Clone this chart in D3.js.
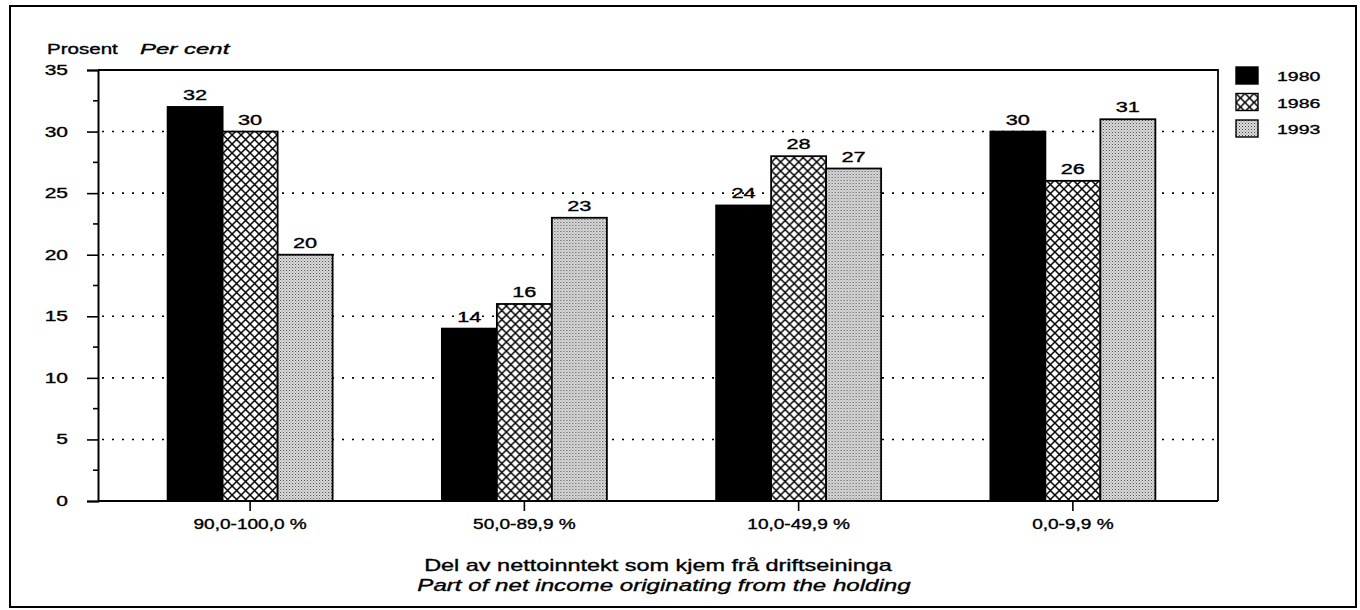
<!DOCTYPE html>
<html>
<head>
<meta charset="utf-8">
<script src="https://cdn.jsdelivr.net/npm/d3@7"></script>
<style>
  body { margin: 0; background: #fff; }
  svg { font-family: "Liberation Sans", Arial, sans-serif; }
  svg text { fill: #000; stroke: #000; stroke-width: 0.35px; }
</style>
</head>
<body>
<div id="vis"></div>
<script>
// data
const CATEGORIES = ["90,0-100,0 %", "50,0-89,9 %", "10,0-49,9 %", "0,0-9,9 %"];
const YEARS = ["1980", "1986", "1993"];
const V1980 = [32, 14, 24, 30];
const V1986 = [30, 16, 28, 26];
const V1993 = [20, 23, 27, 31];
const Y_TICKS = [0, 5, 10, 15, 20, 25, 30, 35];

const SERIES = [V1980, V1986, V1993];

// frame
const FRAME_WIDTH = 1360;
const FRAME_HEIGHT = 610;
const PLOT = {left: 98, right: 1218, top: 70, bottom: 501};

const SVG = d3.select("#vis")
  .append("svg")
    .attr("width", FRAME_WIDTH)
    .attr("height", FRAME_HEIGHT);

// the scanned lettering is wide, so stretch text horizontally
function wideText(parent, x, y, sx) {
  return parent.append("text")
      .attr("transform", "translate(" + x + "," + y + ") scale(" + sx + ",1)");
}

// patterns
const DEFS = SVG.append("defs");
const cross = DEFS.append("pattern")
    .attr("id", "cross")
    .attr("patternUnits", "userSpaceOnUse")
    .attr("width", 9).attr("height", 9);
cross.append("rect").attr("width", 9).attr("height", 9).attr("fill", "#fff");
cross.append("path")
    .attr("d", "M0,0L9,9M9,0L0,9")
    .attr("stroke", "#000").attr("stroke-width", 1.5);

const dots = DEFS.append("pattern")
    .attr("id", "dots")
    .attr("patternUnits", "userSpaceOnUse")
    .attr("width", 3).attr("height", 3);
dots.append("rect").attr("width", 3).attr("height", 3).attr("fill", "#dedede");
dots.append("rect").attr("width", 1).attr("height", 1).attr("fill", "#444");
dots.append("rect").attr("x", 1.5).attr("y", 1.5).attr("width", 1).attr("height", 1).attr("fill", "#777");

const FILLS = ["#000", "url(#cross)", "url(#dots)"];

// outer frame
SVG.append("rect")
    .attr("x", 10).attr("y", 6)
    .attr("width", 1346).attr("height", 601)
    .attr("fill", "none").attr("stroke", "#000").attr("stroke-width", 2);

// scales
const X_SCALE = d3.scaleBand()
    .domain(CATEGORIES)
    .range([113, 1210]);

const BAR_W = 55;
const X_INNER = d3.scaleBand()
    .domain(YEARS)
    .range([-BAR_W * 1.5, BAR_W * 1.5]);

const Y_SCALE = d3.scaleLinear()
    .domain([0, 35])
    .range([PLOT.bottom, PLOT.top]);

// dotted gridlines
SVG.append("g")
  .selectAll("line")
  .data(Y_TICKS.filter(d => d > 0 && d < 35))
  .enter()
  .append("line")
    .attr("x1", PLOT.left + 4).attr("x2", PLOT.right - 2)
    .attr("y1", d => Y_SCALE(d)).attr("y2", d => Y_SCALE(d))
    .attr("stroke", "#000")
    .attr("stroke-width", 1.6)
    .attr("stroke-dasharray", "2,8");

// bars
const groups = SVG.append("g")
  .selectAll("g")
  .data(CATEGORIES)
  .enter()
  .append("g")
    .attr("transform", d => "translate(" + (X_SCALE(d) + X_SCALE.bandwidth() / 2) + ",0)");

groups.selectAll("rect")
  .data((d, i) => YEARS.map((y, j) => ({year: y, s: j, v: SERIES[j][i]})))
  .enter()
  .append("rect")
    .attr("x", d => X_INNER(d.year))
    .attr("y", d => Y_SCALE(d.v))
    .attr("width", X_INNER.bandwidth())
    .attr("height", d => Y_SCALE(0) - Y_SCALE(d.v))
    .attr("fill", d => FILLS[d.s])
    .attr("stroke", "#000")
    .attr("stroke-width", 1.8);

groups.each(function(cat, i) {
  const g = d3.select(this);
  YEARS.forEach((y, j) => {
    const v = SERIES[j][i];
    wideText(g, X_INNER(y) + X_INNER.bandwidth() / 2, Y_SCALE(v) - 7, 1.45)
        .attr("text-anchor", "middle")
        .attr("font-size", "15px")
        .text(v);
  });
});

// plot box (top and right)
SVG.append("path")
    .attr("d", "M" + PLOT.left + "," + PLOT.top + "H" + PLOT.right + "V" + PLOT.bottom)
    .attr("fill", "none").attr("stroke", "#000").attr("stroke-width", 1.8);

// y axis
const yAxis = SVG.append("g")
    .attr("transform", "translate(" + PLOT.left + ",0)")
    .call(d3.axisLeft(Y_SCALE).tickValues(Y_TICKS).tickSize(11));
yAxis.select(".domain").attr("stroke-width", 2);
yAxis.selectAll(".tick line").attr("stroke-width", 1.6);
yAxis.selectAll("text")
    .attr("font-size", "14px")
    .attr("font-family", "Liberation Sans, Arial, sans-serif")
    .attr("x", 0)
    .attr("transform", "translate(-30,0) scale(1.5,1)");

// minor y ticks
SVG.append("g")
  .selectAll("line")
  .data(d3.range(2.5, 35, 5))
  .enter()
  .append("line")
    .attr("x1", PLOT.left - 5).attr("x2", PLOT.left)
    .attr("y1", d => Y_SCALE(d)).attr("y2", d => Y_SCALE(d))
    .attr("stroke", "#000").attr("stroke-width", 1.6);

// x axis
const xAxis = SVG.append("g")
    .attr("transform", "translate(0," + PLOT.bottom + ")")
    .call(d3.axisBottom(X_SCALE).tickSize(10).tickPadding(8));
xAxis.select(".domain").attr("d", "M" + PLOT.left + ",0H" + PLOT.right).attr("stroke-width", 2);
xAxis.selectAll(".tick line").attr("stroke-width", 1.6);
xAxis.selectAll("text")
    .attr("font-size", "14px")
    .attr("font-family", "Liberation Sans, Arial, sans-serif")
    .attr("transform", "scale(1.36,1)");

// y title
wideText(SVG, 47, 54, 1.37).attr("font-size", "15px").text("Prosent");
wideText(SVG, 140, 54, 1.6).attr("font-size", "15px").attr("font-style", "italic").text("Per cent");

// x title
wideText(SVG, 658, 571, 1.38)
    .attr("text-anchor", "middle")
    .attr("font-size", "17px")
    .text("Del av nettoinntekt som kjem frå driftseininga");
wideText(SVG, 664, 591, 1.42)
    .attr("text-anchor", "middle")
    .attr("font-size", "17px")
    .attr("font-style", "italic")
    .text("Part of net income originating from the holding");

// legend
const legend = SVG.append("g")
  .selectAll("g")
  .data(YEARS)
  .enter()
  .append("g")
    .attr("transform", (d, i) => "translate(1236," + (67 + i * 26.5) + ")");
legend.append("rect")
    .attr("width", 22).attr("height", 17)
    .attr("fill", (d, i) => FILLS[i])
    .attr("stroke", "#000").attr("stroke-width", 1.4);
legend.each(function(d) {
  wideText(d3.select(this), 41, 14, 1.5)
      .attr("font-size", "13px")
      .text(d);
});
</script>
</body>
</html>
